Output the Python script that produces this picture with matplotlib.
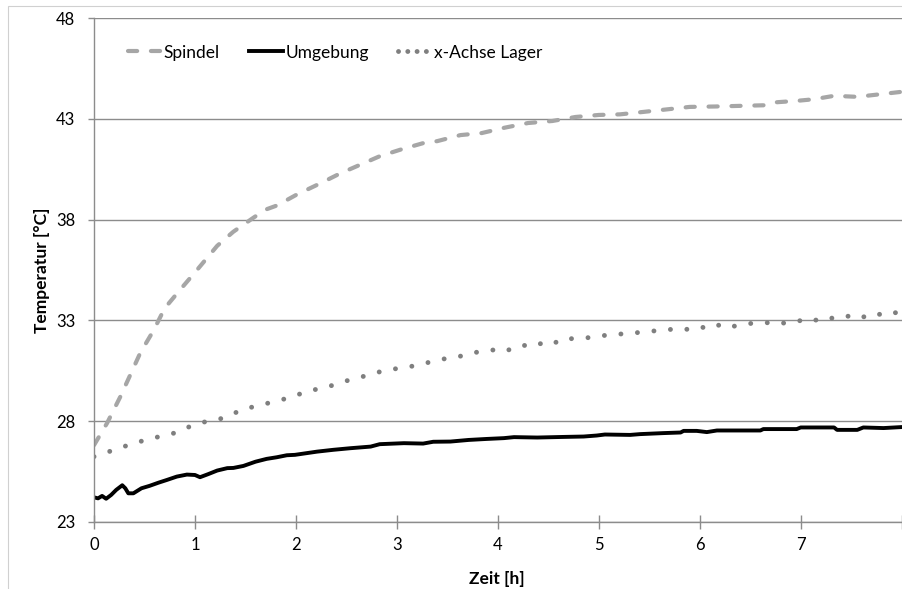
"""Temperaturverlauf Spindel / Umgebung / x-Achse Lager."""

import matplotlib

matplotlib.use("Agg")
import matplotlib.pyplot as plt
from matplotlib.lines import Line2D
from matplotlib.patches import Rectangle

# Spindel (gestrichelt, hellgrau)
spindel_t = [0, 0.13, 0.18, 0.26, 0.36, 0.46, 0.59, 0.70, 0.85, 1.02, 1.22, 1.38,
             1.58, 1.70, 1.81, 2.01, 2.24, 2.44, 2.67, 2.83, 3.05, 3.26, 3.40, 3.63,
             3.84, 4.07, 4.30, 4.54, 4.77, 5.0, 5.21, 5.44, 5.68, 5.9, 6.15, 6.39,
             6.63, 6.73, 6.96, 7.13, 7.33, 7.56, 7.79, 8.0]
spindel_temp = [26.8, 27.9, 28.4, 29.2, 30.3, 31.4, 32.5, 33.6, 34.5, 35.5, 36.7, 37.4,
                38.1, 38.5, 38.7, 39.25, 39.8, 40.3, 40.8, 41.15, 41.5, 41.8, 41.9, 42.2,
                42.3, 42.57, 42.8, 42.9, 43.1, 43.2, 43.23, 43.35, 43.48, 43.6, 43.62, 43.65,
                43.68, 43.82, 43.9, 43.98, 44.15, 44.1, 44.23, 44.35]

# Umgebung (schwarz, durchgezogen)
umgebung_t = [0, 0.04, 0.08, 0.12, 0.17, 0.22, 0.28, 0.31, 0.34, 0.39, 0.47, 0.55,
              0.64, 0.72, 0.82, 0.92, 1.0, 1.05, 1.13, 1.22, 1.32, 1.38, 1.48, 1.60,
              1.71, 1.81, 1.91, 1.99, 2.21, 2.37, 2.54, 2.74, 2.83, 3.07, 3.26, 3.36,
              3.53, 3.71, 3.89, 4.06, 4.16, 4.39, 4.65, 4.85, 4.98, 5.06, 5.31, 5.41,
              5.64, 5.81, 5.84, 5.97, 6.07, 6.17, 6.60, 6.63, 6.96, 7.0, 7.33, 7.36,
              7.56, 7.62, 7.82, 8.0]
umgebung_temp = [24.21, 24.16, 24.28, 24.14, 24.33, 24.58, 24.81, 24.66, 24.41, 24.41, 24.66, 24.78,
                 24.94, 25.07, 25.24, 25.34, 25.32, 25.21, 25.36, 25.54, 25.66, 25.67, 25.77, 25.98,
                 26.12, 26.2, 26.3, 26.32, 26.48, 26.57, 26.65, 26.73, 26.85, 26.9, 26.88, 26.97,
                 26.98, 27.06, 27.11, 27.15, 27.2, 27.18, 27.21, 27.23, 27.28, 27.33, 27.31, 27.35,
                 27.4, 27.43, 27.51, 27.51, 27.45, 27.53, 27.53, 27.6, 27.6, 27.68, 27.68, 27.56,
                 27.56, 27.68, 27.65, 27.7]

# x-Achse Lager (gepunktet, grau)
lager_t = [0, 0.16, 0.32, 0.49, 0.65, 0.82, 0.98, 1.13, 1.30, 1.46, 1.63, 1.79,
           1.96, 2.12, 2.29, 2.45, 2.62, 2.70, 2.87, 3.03, 3.20, 3.35, 3.51, 3.68,
           3.76, 3.92, 4.0, 4.09, 4.24, 4.33, 4.49, 4.56, 4.63, 4.80, 4.95, 5.11,
           5.28, 5.44, 5.60, 5.76, 5.84, 6.0, 6.08, 6.24, 6.33, 6.48, 6.65, 6.77,
           6.85, 7.01, 7.10, 7.18, 7.26, 7.34, 7.43, 7.51, 7.59, 7.66, 7.74, 7.82,
           7.91, 8.0]
lager_temp = [26.23, 26.5, 26.77, 27.03, 27.23, 27.43, 27.8, 28.0, 28.16, 28.56, 28.77, 28.97,
              29.19, 29.5, 29.65, 29.93, 30.15, 30.26, 30.5, 30.63, 30.76, 30.96, 31.13, 31.26,
              31.4, 31.48, 31.6, 31.5, 31.78, 31.68, 31.96, 31.86, 32.09, 32.09, 32.17, 32.29,
              32.34, 32.42, 32.5, 32.57, 32.52, 32.7, 32.57, 32.85, 32.7, 32.84, 32.87, 32.94,
              32.84, 33.0, 32.92, 33.07, 33.17, 33.07, 33.18, 33.23, 33.1, 33.25, 33.37, 33.23,
              33.37, 33.4]

x_ticks = [0, 1, 2, 3, 4, 5, 6, 7, 8]
x_ticklabels = ["0", "1", "2", "3", "4", "5", "6", "7", ""]
y_ticks = [23, 28, 33, 38, 43, 48]

SPINDEL_COLOR = "#a6a6a6"
LAGER_COLOR = "#7f7f7f"
AXIS_COLOR = "#8c8c8c"

plt.rcParams.update({"font.family": ["Lato", "DejaVu Sans"], "font.size": 12})

fig = plt.figure(figsize=(9.02, 5.89), dpi=100)
ax = fig.add_axes([94 / 902, 1 - 521.7 / 589, 807.7 / 902, 503.4 / 589])

# heller Rahmen des Diagrammbereichs
fig.patches.append(Rectangle((8 / 902, -0.1), 1.2, 1.1 - 6 / 589, transform=fig.transFigure,
                             fill=False, edgecolor="#d0d0d0", linewidth=0.8))

ax.plot(spindel_t, spindel_temp, color=SPINDEL_COLOR, linewidth=3,
        linestyle=(0, (2.2, 3.3)), dash_capstyle="round", solid_joinstyle="round")
ax.plot(umgebung_t, umgebung_temp, color="black", linewidth=2.8,
        solid_joinstyle="round")
ax.plot(lager_t, lager_temp, color=LAGER_COLOR, linewidth=3.5,
        linestyle=(0, (0.01, 3.4)), dash_capstyle="round")

ax.set_xlim(0, 8)
ax.set_ylim(23, 48)
ax.set_xticks(x_ticks)
ax.set_xticklabels(x_ticklabels)
ax.set_yticks(y_ticks)

ax.grid(axis="y", color=AXIS_COLOR, linewidth=1)
ax.set_axisbelow(True)
for side in ("top", "right"):
    ax.spines[side].set_visible(False)
for side in ("left", "bottom"):
    ax.spines[side].set_color(AXIS_COLOR)
    ax.spines[side].set_linewidth(1)

ax.tick_params(axis="x", direction="inout", length=9.5, width=1, color=AXIS_COLOR,
               pad=6, labelsize=12)
ax.tick_params(axis="y", direction="out", length=4.5, width=1, color=AXIS_COLOR,
               pad=9, labelsize=12)

fig.text(42 / 902, 1 - 270 / 589, "Temperatur [°C]", rotation=90, ha="center",
         va="center", fontsize=12.5, fontweight="bold")
fig.text(497 / 902, 1 - 579 / 589, "Zeit [h]", ha="center", va="center",
         fontsize=12.5, fontweight="bold")

handles = [
    Line2D([], [], color=SPINDEL_COLOR, linewidth=3, linestyle=(0, (2.2, 3.3)),
           dash_capstyle="round"),
    Line2D([], [], color="black", linewidth=2.8),
    Line2D([], [], color=LAGER_COLOR, linewidth=3.5, linestyle=(0, (0.01, 1.9)),
           dash_capstyle="round"),
]
ax.legend(handles, ["Spindel", "Umgebung", "x-Achse Lager"], loc="center left",
          bbox_to_anchor=(0.042, 0.932), ncol=3, frameon=False, borderpad=0,
          borderaxespad=0, handlelength=1.95, handletextpad=0.12, columnspacing=1.7,
          fontsize=12.5)

fig.savefig("out.png", dpi=100, facecolor="white")
